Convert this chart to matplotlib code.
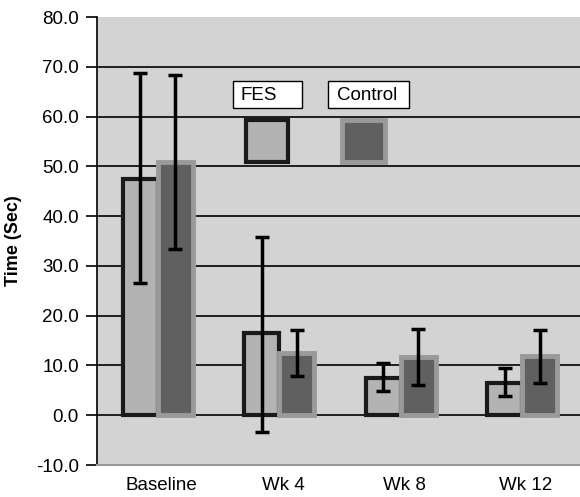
import matplotlib.pyplot as plt
from matplotlib.patches import Rectangle
import numpy as np

plt.rcParams['font.family'] = ['Liberation Sans', 'DejaVu Sans']

# Data
categories = ['Baseline', 'Wk 4', 'Wk 8', 'Wk 12']
fes_mean = [47.4, 16.5, 7.5, 6.5]
fes_upper = [68.8, 35.9, 10.4, 9.4]
fes_lower = [26.5, -3.4, 4.8, 3.8]
ctrl_mean = [50.8, 12.4, 11.7, 11.8]
ctrl_upper = [68.3, 17.1, 17.3, 17.1]
ctrl_lower = [33.3, 7.8, 6.0, 6.4]

W, H = 580, 497
fig = plt.figure(figsize=(W / 100, H / 100), dpi=100)
# axes box in pixels: left 97, top 17, bottom 465, right runs a little past the image
left, right, top, bottom = 97, 583, 17, 465
ax = fig.add_axes([left / W, 1 - bottom / H, (right - left) / W, (bottom - top) / H])
ax.set_facecolor('#d3d3d3')

x = np.arange(len(categories))
bw = 0.29

for yv in range(0, 80, 10):
    ax.axhline(yv, color='black', lw=1.2, zorder=1)

fes_err = [np.array(fes_mean) - np.array(fes_lower), np.array(fes_upper) - np.array(fes_mean)]
ctrl_err = [np.array(ctrl_mean) - np.array(ctrl_lower), np.array(ctrl_upper) - np.array(ctrl_mean)]

ax.bar(x - bw / 2, fes_mean, bw, color='#b3b3b3', edgecolor='#1a1a1a', linewidth=3, zorder=2)
ax.bar(x + bw / 2, ctrl_mean, bw, color='#606060', edgecolor='#9a9a9a', linewidth=3.5, zorder=3)
ax.errorbar(x - bw / 2, fes_mean, yerr=fes_err, fmt='none', ecolor='black',
            elinewidth=2.5, capsize=5, capthick=2.5, zorder=4)
ax.errorbar(x + bw / 2, ctrl_mean, yerr=ctrl_err, fmt='none', ecolor='black',
            elinewidth=2.5, capsize=5, capthick=2.5, zorder=4)

ax.set_ylim(-10, 80)
ax.set_xlim(-0.5, 3.5)
ax.set_yticks(range(-10, 81, 10))
ax.set_yticklabels([f'{v:.1f}' for v in range(-10, 81, 10)], fontsize=13.5)
ax.set_xticks(x + 0.03)
ax.set_xticklabels(categories, fontsize=13.5)
ax.tick_params(axis='x', length=0, pad=9)
ax.tick_params(axis='y', length=8, width=1.2, direction='out', pad=5)
ax.set_ylabel('Time (Sec)', fontsize=13, fontweight='bold', labelpad=10)

for s in ['top', 'right']:
    ax.spines[s].set_visible(False)
ax.spines['left'].set_linewidth(1.2)
ax.spines['bottom'].set_color('#999999')
ax.spines['bottom'].set_linewidth(1.5)


def px_rect(x0, y0, x1, y1, **kw):
    r = Rectangle((x0 / W, 1 - y1 / H), (x1 - x0) / W, (y1 - y0) / H,
                  transform=fig.transFigure, clip_on=False, zorder=10, **kw)
    ax.add_patch(r)


# legend labels
px_rect(233, 81, 302, 108, facecolor='white', edgecolor='black', lw=1)
px_rect(328, 81, 409, 108, facecolor='white', edgecolor='black', lw=1)
ax.text(241 / W, 1 - 95 / H, 'FES', fontsize=13.5, va='center', ha='left',
        transform=fig.transFigure, zorder=11)
ax.text(337 / W, 1 - 95 / H, 'Control', fontsize=13.5, va='center', ha='left',
        transform=fig.transFigure, zorder=11)
# legend swatches
px_rect(246, 120, 288, 162, facecolor='#b3b3b3', edgecolor='#1a1a1a', lw=3)
px_rect(342, 120, 385, 162, facecolor='#606060', edgecolor='#9a9a9a', lw=3.5)

fig.savefig('out.png', dpi=100)
